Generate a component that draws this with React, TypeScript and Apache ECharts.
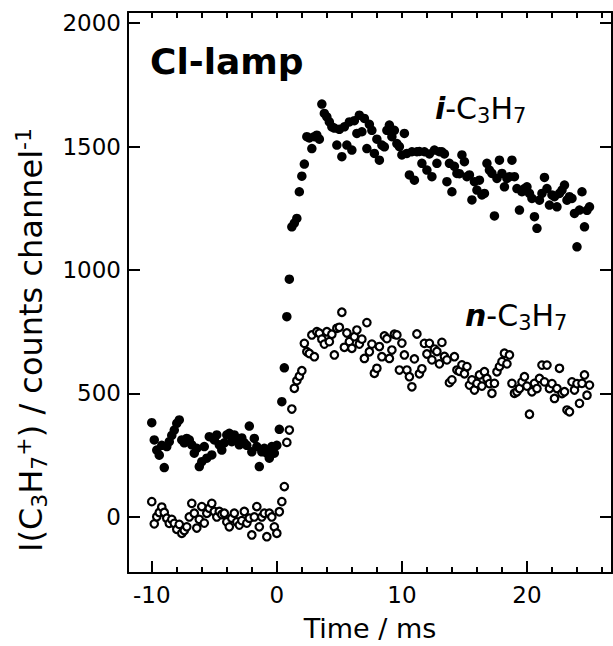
import React, { useEffect, useRef } from 'react';
import * as echarts from 'echarts';

// Sampling grid of the time traces (ms)
const timeStart = -10;
const timeStep = 0.2;

// I(C3H7+) for the i-C3H7 isomer (filled circles), counts per channel
const iPropylCounts = [
  382, 312, 271, 250, 290, 200, 285, 305, 330, 352,
  379, 393, 312, 300, 318, 312, 292, 258, 278, 204,
  224, 285, 238, 325, 251, 312, 332, 292, 271, 300,
  332, 339, 305, 332, 312, 292, 320, 300, 290, 368,
  264, 318, 285, 204, 264, 278, 258, 238, 285, 258,
  290, 355, 467, 604, 811, 963, 1175, 1190, 1209, 1317,
  1380, 1429, 1540, 1535, 1492, 1540, 1546, 1530, 1672, 1634,
  1620, 1600, 1580, 1575, 1506, 1570, 1459, 1580, 1506, 1600,
  1486, 1605, 1553, 1627, 1560, 1614, 1492, 1590, 1566, 1472,
  1530, 1445, 1506, 1499, 1566, 1587, 1540, 1566, 1512, 1500,
  1466, 1553, 1472, 1385, 1479, 1364, 1479, 1480, 1432, 1479,
  1405, 1470, 1378, 1486, 1432, 1479, 1479, 1470, 1358, 1432,
  1317, 1420, 1391, 1390, 1466, 1439, 1378, 1385, 1284, 1358,
  1324, 1364, 1304, 1310, 1432, 1405, 1391, 1219, 1371, 1445,
  1391, 1337, 1371, 1378, 1445, 1378, 1330, 1243, 1317, 1330,
  1337, 1310, 1290, 1216, 1169, 1283, 1310, 1375, 1330, 1263,
  1304, 1297, 1256, 1310, 1324, 1344, 1283, 1297, 1290, 1229,
  1094, 1243, 1317, 1175, 1242, 1256,
];

// I(C3H7+) for the n-C3H7 isomer (open circles), counts per channel
const nPropylCounts = [
  62, -28, 1, 18, 40, 18, -5, -26, -10, -26,
  -50, -30, -66, -55, -40, 0, 55, 15, -45, -10,
  42, -25, 15, 35, 55, 22, 0, 22, 10, 15,
  -20, -40, -5, 15, -20, -33, -15, 22, -25, -5,
  -73, 0, 42, -40, 0, 15, -80, 15, 0, -40,
  -66, 21, 62, 123, 302, 352, 437, 521, 552, 570,
  592, 703, 669, 662, 737, 649, 750, 744, 720, 700,
  750, 710, 740, 656, 764, 768, 829, 687, 745, 710,
  683, 730, 757, 700, 720, 642, 787, 669, 700, 582,
  602, 690, 649, 733, 722, 642, 676, 740, 737, 595,
  704, 656, 595, 568, 527, 640, 741, 580, 600, 703,
  660, 703, 636, 680, 670, 620, 707, 650, 636, 544,
  555, 649, 595, 590, 616, 580, 609, 534, 555, 514,
  541, 575, 530, 588, 561, 540, 501, 541, 588, 609,
  629, 663, 620, 656, 541, 501, 507, 520, 547, 568,
  530, 416, 507, 541, 520, 561, 615, 547, 615, 520,
  540, 480, 520, 602, 500, 507, 433, 426, 547, 514,
  540, 460, 541, 575, 493, 534,
];

// Axis ticks
const xMajorTicks = [-10, 0, 10, 20];
const xMinorTicks = [-10, -8, -6, -4, -2, 0, 2, 4, 6, 8, 10, 12, 14, 16, 18, 20, 22, 24, 26];
const yMajorTicks = [0, 500, 1000, 1500, 2000];

const FONT = 'DejaVu Sans';
const BLACK = '#000';

const toPoints = (values: number[]) =>
  values.map((v, i) => [Number((timeStart + i * timeStep).toFixed(2)), v]);

const xRange = { min: -11.9, max: 26.8 };
const yRange = { min: -227, max: 2045 };
const lineStyle = { color: BLACK, width: 2 };

export default function App() {
  const ref = useRef<HTMLDivElement>(null);

  useEffect(() => {
    if (!ref.current) return;
    const chart = echarts.init(ref.current, undefined, { renderer: 'svg' });

    const gridBox = { left: 128, right: 1, top: 12, bottom: 73, outerBoundsMode: 'none' };

    const speciesRich = {
      n: { fontSize: 30, fontFamily: FONT, fill: BLACK, lineHeight: 36 },
      bi: { fontSize: 30, fontFamily: FONT, fontWeight: 'bold', fontStyle: 'italic', fill: BLACK, lineHeight: 36 },
      s: { fontSize: 21, fontFamily: FONT, fill: BLACK, lineHeight: 18, verticalAlign: 'bottom' },
    };

    const option: any = {
      animation: false,
      backgroundColor: '#fff',
      grid: [gridBox, gridBox],
      xAxis: [
        {
          type: 'value', gridIndex: 0, position: 'bottom', ...xRange,
          axisLine: { show: true, onZero: false, lineStyle },
          axisTick: { show: true, inside: true, length: 12, lineStyle, customValues: xMajorTicks },
          axisLabel: {
            customValues: xMajorTicks, fontSize: 23, fontFamily: FONT, color: BLACK, margin: 10,
            formatter: (v: number) => String(v),
          },
          splitLine: { show: false },
          name: 'Time / ms', nameLocation: 'middle', nameGap: 42,
          nameTextStyle: { fontSize: 27, fontFamily: FONT, color: BLACK },
        },
        {
          type: 'value', gridIndex: 0, position: 'top', ...xRange,
          axisLine: { show: true, onZero: false, lineStyle },
          axisTick: { show: true, inside: true, length: 6, lineStyle, customValues: xMinorTicks },
          axisLabel: { show: false },
          splitLine: { show: false },
        },
        {
          type: 'value', gridIndex: 1, position: 'bottom', ...xRange,
          axisLine: { show: false, onZero: false },
          axisTick: { show: true, inside: true, length: 6, lineStyle, customValues: xMinorTicks },
          axisLabel: { show: false },
          splitLine: { show: false },
        },
      ],
      yAxis: [
        {
          type: 'value', gridIndex: 0, position: 'left', ...yRange,
          axisLine: { show: true, onZero: false, lineStyle },
          axisTick: { show: true, inside: true, length: 12, lineStyle, customValues: yMajorTicks },
          axisLabel: {
            customValues: yMajorTicks, fontSize: 23, fontFamily: FONT, color: BLACK, margin: 7,
            formatter: (v: number) => String(v),
          },
          splitLine: { show: false },
        },
        {
          type: 'value', gridIndex: 0, position: 'right', ...yRange,
          axisLine: { show: true, onZero: false, lineStyle },
          axisTick: { show: true, inside: true, length: 12, lineStyle, customValues: yMajorTicks },
          axisLabel: { show: false },
          splitLine: { show: false },
        },
        {
          type: 'value', gridIndex: 1, ...yRange, show: false,
        },
      ],
      series: [
        {
          name: 'i-C3H7', type: 'scatter', xAxisIndex: 0, yAxisIndex: 0,
          data: toPoints(iPropylCounts),
          symbol: 'circle', symbolSize: 9.5,
          itemStyle: { color: BLACK, opacity: 1 },
          emphasis: { disabled: true },
        },
        {
          name: 'n-C3H7', type: 'scatter', xAxisIndex: 0, yAxisIndex: 0,
          data: toPoints(nPropylCounts),
          symbol: 'circle', symbolSize: 7.5,
          itemStyle: { color: '#fff', borderColor: BLACK, borderWidth: 2.2, opacity: 1 },
          emphasis: { disabled: true },
        },
      ],
      graphic: {
        elements: [
          {
            type: 'text', x: 150, y: 61,
            style: {
              text: 'Cl-lamp', fontSize: 36, fontWeight: 'bold', fontFamily: FONT,
              fill: BLACK, align: 'left', verticalAlign: 'middle',
            },
          },
          {
            type: 'text', x: 435, y: 108,
            style: {
              text: '{bi|i}{n|-C}{s|3}{n|H}{s|7}',
              align: 'left', verticalAlign: 'middle', rich: speciesRich,
            },
          },
          {
            type: 'text', x: 465, y: 315,
            style: {
              text: '{bi|n}{n|-C}{s|3}{n|H}{s|7}',
              align: 'left', verticalAlign: 'middle', rich: speciesRich,
            },
          },
          {
            type: 'text', x: 31, y: 340, rotation: Math.PI / 2,
            style: {
              text: '{n|I(C}{s|3}{n|H}{s|7}{p|+}{n|) / counts channel}{p|-1}',
              align: 'center', verticalAlign: 'middle',
              rich: {
                n: { fontSize: 32, fontFamily: FONT, fill: BLACK, lineHeight: 38 },
                s: { fontSize: 22, fontFamily: FONT, fill: BLACK, lineHeight: 18, verticalAlign: 'bottom' },
                p: { fontSize: 22, fontFamily: FONT, fill: BLACK, lineHeight: 18, verticalAlign: 'top' },
              },
            },
          },
        ],
      },
    };

    chart.setOption(option);
    return () => chart.dispose();
  }, []);

  return (
    <div
      ref={ref}
      style={{ position: 'fixed', left: 0, top: 0, width: 613, height: 646, background: '#fff' }}
    />
  );
}
